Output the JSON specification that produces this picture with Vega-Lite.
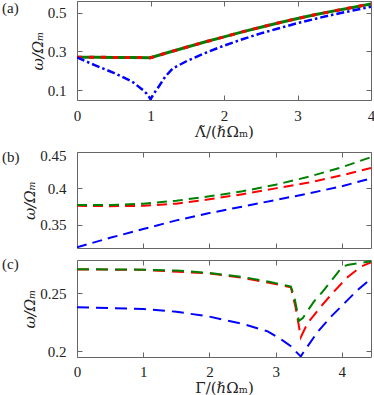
{
"$schema":"https://vega.github.io/schema/vega-lite/v6.json",
"padding":{"left":1,"top":0,"right":0,"bottom":0},
"config":{
 "font":"Liberation Serif",
 "view":{"stroke":"#666","strokeWidth":1},
 "axis":{"grid":false,"domain":false,"tickSize":-5,"tickColor":"#666","tickWidth":1,"labelFont":"Liberation Serif","labelFontSize":15,"labelColor":"#222","titleFont":"DejaVu Serif","titleFontSize":15,"titleFontWeight":"normal","titleColor":"#222"},
 "title":{"font":"Liberation Serif","fontSize":15,"fontWeight":"normal","color":"#222","anchor":"start","frame":"group","baseline":"top"}
},
"datasets":{
 "a":[
  {"s":"g","x":0,"y":0.270},{"s":"g","x":0.25,"y":0.2698},{"s":"g","x":0.5,"y":0.2695},{"s":"g","x":0.75,"y":0.269},{"s":"g","x":1.0,"y":0.268},{"s":"g","x":1.25,"y":0.296},{"s":"g","x":1.5,"y":0.323},{"s":"g","x":1.75,"y":0.350},{"s":"g","x":2.0,"y":0.375},{"s":"g","x":2.25,"y":0.401},{"s":"g","x":2.5,"y":0.425},{"s":"g","x":2.75,"y":0.448},{"s":"g","x":3.0,"y":0.470},{"s":"g","x":3.25,"y":0.490},{"s":"g","x":3.5,"y":0.509},{"s":"g","x":3.75,"y":0.527},{"s":"g","x":4.0,"y":0.545},
  {"s":"r","x":0,"y":0.270},{"s":"r","x":0.25,"y":0.2698},{"s":"r","x":0.5,"y":0.2695},{"s":"r","x":0.75,"y":0.269},{"s":"r","x":1.0,"y":0.268},{"s":"r","x":1.25,"y":0.296},{"s":"r","x":1.5,"y":0.323},{"s":"r","x":1.75,"y":0.350},{"s":"r","x":2.0,"y":0.375},{"s":"r","x":2.25,"y":0.401},{"s":"r","x":2.5,"y":0.425},{"s":"r","x":2.75,"y":0.448},{"s":"r","x":3.0,"y":0.470},{"s":"r","x":3.25,"y":0.490},{"s":"r","x":3.5,"y":0.509},{"s":"r","x":3.75,"y":0.527},{"s":"r","x":4.0,"y":0.545},
  {"s":"b","x":0,"y":0.27},{"s":"b","x":0.25,"y":0.228},{"s":"b","x":0.5,"y":0.19},{"s":"b","x":0.75,"y":0.145},{"s":"b","x":0.9,"y":0.1},{"s":"b","x":0.95,"y":0.082},{"s":"b","x":0.98,"y":0.066},{"s":"b","x":1.0,"y":0.054},{"s":"b","x":1.05,"y":0.085},{"s":"b","x":1.1,"y":0.112},{"s":"b","x":1.2,"y":0.17},{"s":"b","x":1.3,"y":0.212},{"s":"b","x":1.5,"y":0.252},{"s":"b","x":1.75,"y":0.293},{"s":"b","x":2.0,"y":0.33},{"s":"b","x":2.25,"y":0.363},{"s":"b","x":2.5,"y":0.393},{"s":"b","x":2.75,"y":0.42},{"s":"b","x":3.0,"y":0.446},{"s":"b","x":3.25,"y":0.469},{"s":"b","x":3.5,"y":0.491},{"s":"b","x":3.75,"y":0.511},{"s":"b","x":4.0,"y":0.53}
 ],
 "b":[
  {"s":"g","x":0,"y":0.377},{"s":"g","x":0.5,"y":0.377},{"s":"g","x":1.0,"y":0.379},{"s":"g","x":1.5,"y":0.383},{"s":"g","x":2.0,"y":0.389},{"s":"g","x":2.5,"y":0.396},{"s":"g","x":3.0,"y":0.405},{"s":"g","x":3.5,"y":0.416},{"s":"g","x":4.0,"y":0.429},{"s":"g","x":4.44,"y":0.443},
  {"s":"r","x":0,"y":0.376},{"s":"r","x":0.5,"y":0.3755},{"s":"r","x":1.0,"y":0.376},{"s":"r","x":1.5,"y":0.379},{"s":"r","x":2.0,"y":0.385},{"s":"r","x":2.5,"y":0.392},{"s":"r","x":3.0,"y":0.400},{"s":"r","x":3.5,"y":0.408},{"s":"r","x":4.0,"y":0.418},{"s":"r","x":4.44,"y":0.428},
  {"s":"b","x":0,"y":0.319},{"s":"b","x":0.5,"y":0.332},{"s":"b","x":1.0,"y":0.344},{"s":"b","x":1.5,"y":0.356},{"s":"b","x":2.0,"y":0.366},{"s":"b","x":2.5,"y":0.375},{"s":"b","x":3.0,"y":0.384},{"s":"b","x":3.5,"y":0.393},{"s":"b","x":4.0,"y":0.403},{"s":"b","x":4.44,"y":0.4136}
 ],
 "c":[
  {"s":"g","x":0,"y":0.2706},{"s":"g","x":0.5,"y":0.2705},{"s":"g","x":1.0,"y":0.2703},{"s":"g","x":1.5,"y":0.2695},{"s":"g","x":2.0,"y":0.2675},{"s":"g","x":2.5,"y":0.264},{"s":"g","x":2.9,"y":0.2598},{"s":"g","x":3.1,"y":0.2575},{"s":"g","x":3.23,"y":0.2557},{"s":"g","x":3.28,"y":0.247},{"s":"g","x":3.32,"y":0.236},{"s":"g","x":3.35,"y":0.226},{"s":"g","x":3.41,"y":0.2286},{"s":"g","x":3.58,"y":0.2429},{"s":"g","x":3.71,"y":0.2514},{"s":"g","x":3.89,"y":0.2643},{"s":"g","x":4.01,"y":0.2729},{"s":"g","x":4.1,"y":0.2745},{"s":"g","x":4.44,"y":0.2775},
  {"s":"r","x":0,"y":0.2705},{"s":"r","x":1.0,"y":0.2701},{"s":"r","x":2.0,"y":0.2670},{"s":"r","x":2.5,"y":0.2633},{"s":"r","x":2.9,"y":0.259},{"s":"r","x":3.23,"y":0.255},{"s":"r","x":3.3,"y":0.238},{"s":"r","x":3.35,"y":0.222},{"s":"r","x":3.38,"y":0.212},{"s":"r","x":3.48,"y":0.224},{"s":"r","x":3.69,"y":0.239},{"s":"r","x":3.89,"y":0.252},{"s":"r","x":4.09,"y":0.264},{"s":"r","x":4.29,"y":0.273},{"s":"r","x":4.44,"y":0.2765},
  {"s":"b","x":0,"y":0.2378},{"s":"b","x":0.5,"y":0.2372},{"s":"b","x":1.0,"y":0.2364},{"s":"b","x":1.5,"y":0.234},{"s":"b","x":2.0,"y":0.2298},{"s":"b","x":2.5,"y":0.2236},{"s":"b","x":2.88,"y":0.2171},{"s":"b","x":3.1,"y":0.2095},{"s":"b","x":3.23,"y":0.2043},{"s":"b","x":3.3,"y":0.2},{"s":"b","x":3.38,"y":0.1955},{"s":"b","x":3.43,"y":0.2},{"s":"b","x":3.64,"y":0.2171},{"s":"b","x":3.84,"y":0.23},{"s":"b","x":4.04,"y":0.2414},{"s":"b","x":4.24,"y":0.2529},{"s":"b","x":4.44,"y":0.2625}
 ]
},
"spacing":7,
"vconcat":[
 {
  "width":294,"height":99,
  "title":{"text":"(a)","offset":-15.2,"dx":-75},
  "layer":[
   {
    "encoding":{
     "x":{"field":"x","type":"quantitative","scale":{"domain":[0,4],"nice":false,"zero":false},"axis":{"orient":"bottom","values":[0,1,2,3,4],"format":"d","labelFlush":false,"labelPadding":13,"title":"Λ̃/(ℏΩₘ)","titlePadding":1}},
     "y":{"field":"y","type":"quantitative","scale":{"domain":[0.05,0.56],"nice":false,"zero":false},"axis":{"orient":"left","values":[0.1,0.3,0.5],"format":".1f","labelPadding":16,"title":"ω/Ωₘ","titlePadding":2,"titleFontStyle":"italic"}}
    },
    "layer":[
     {"data":{"name":"a"},"transform":[{"filter":"datum.s=='g'"}],"mark":{"type":"line","color":"#008000","strokeWidth":3,"clip":true}},
     {"data":{"name":"a"},"transform":[{"filter":"datum.s=='r'"}],"mark":{"type":"line","color":"#ff0000","strokeWidth":3,"strokeDash":[5,7],"clip":true}},
     {"data":{"name":"a"},"transform":[{"filter":"datum.s=='b'"}],"mark":{"type":"line","color":"#0000ff","strokeWidth":2.5,"strokeDash":[8,3,2.5,3],"clip":true}}
    ]
   },
   {"data":{"name":"a"},"mark":{"type":"line","opacity":0},
    "encoding":{
     "x":{"field":"x","type":"quantitative","scale":{"domain":[0,4],"nice":false,"zero":false},"axis":{"orient":"top","values":[0,1,2,3,4],"labels":false,"title":null}},
     "y":{"field":"y","type":"quantitative","scale":{"domain":[0.05,0.56],"nice":false,"zero":false},"axis":{"orient":"right","values":[0.1,0.3,0.5],"labels":false,"title":null}}
    }}
  ],
  "resolve":{"axis":{"x":"independent","y":"independent"}}
 },
 {
  "width":294,"height":96,
  "title":{"text":"(b)","offset":-16.9,"dx":-75},
  "layer":[
   {
    "encoding":{
     "x":{"field":"x","type":"quantitative","scale":{"domain":[0,4.44],"nice":false,"zero":false},"axis":{"orient":"bottom","values":[0,1,2,3,4],"labels":false,"title":null}},
     "y":{"field":"y","type":"quantitative","scale":{"domain":[0.318,0.45],"nice":false,"zero":false},"axis":{"orient":"left","values":[0.35,0.4,0.45],"format":"~g","labelPadding":16,"labelFlush":true,"labelFlushOffset":4,"title":"ω/Ωₘ","titlePadding":2,"titleFontStyle":"italic"}}
    },
    "layer":[
     {"data":{"name":"b"},"transform":[{"filter":"datum.s=='b'"}],"mark":{"type":"line","color":"#0000ff","strokeWidth":2,"strokeDash":[10,6],"clip":true}},
     {"data":{"name":"b"},"transform":[{"filter":"datum.s=='r'"}],"mark":{"type":"line","color":"#ff0000","strokeWidth":2,"strokeDash":[10,6],"clip":true}},
     {"data":{"name":"b"},"transform":[{"filter":"datum.s=='g'"}],"mark":{"type":"line","color":"#008000","strokeWidth":2,"strokeDash":[10,6],"clip":true}}
    ]
   },
   {"data":{"name":"b"},"mark":{"type":"line","opacity":0},
    "encoding":{
     "x":{"field":"x","type":"quantitative","scale":{"domain":[0,4.44],"nice":false,"zero":false},"axis":{"orient":"top","values":[0,1,2,3,4],"labels":false,"title":null}},
     "y":{"field":"y","type":"quantitative","scale":{"domain":[0.318,0.45],"nice":false,"zero":false},"axis":{"orient":"right","values":[0.35,0.4,0.45],"labels":false,"title":null}}
    }}
  ],
  "resolve":{"axis":{"x":"independent","y":"independent"}}
 },
 {
  "width":294,"height":97,
  "title":{"text":"(c)","offset":-12.8,"dx":-75},
  "layer":[
   {
    "encoding":{
     "x":{"field":"x","type":"quantitative","scale":{"domain":[0,4.44],"nice":false,"zero":false},"axis":{"orient":"bottom","values":[0,1,2,3,4],"format":"d","labelFlush":false,"labelPadding":12,"title":"Γ̄/(ℏΩₘ)","titlePadding":1}},
     "y":{"field":"y","type":"quantitative","scale":{"domain":[0.195,0.2786],"nice":false,"zero":false},"axis":{"orient":"left","values":[0.2,0.25],"format":"~g","labelPadding":16,"title":"ω/Ωₘ","titlePadding":2,"titleFontStyle":"italic"}}
    },
    "layer":[
     {"data":{"name":"c"},"transform":[{"filter":"datum.s=='b'"}],"mark":{"type":"line","color":"#0000ff","strokeWidth":2,"strokeDash":[12,7],"clip":true}},
     {"data":{"name":"c"},"transform":[{"filter":"datum.s=='r'"}],"mark":{"type":"line","color":"#ff0000","strokeWidth":2,"strokeDash":[12,7],"clip":true}},
     {"data":{"name":"c"},"transform":[{"filter":"datum.s=='g'"}],"mark":{"type":"line","color":"#008000","strokeWidth":2,"strokeDash":[12,7],"clip":true}}
    ]
   },
   {"data":{"name":"c"},"mark":{"type":"line","opacity":0},
    "encoding":{
     "x":{"field":"x","type":"quantitative","scale":{"domain":[0,4.44],"nice":false,"zero":false},"axis":{"orient":"top","values":[0,1,2,3,4],"labels":false,"title":null}},
     "y":{"field":"y","type":"quantitative","scale":{"domain":[0.195,0.2786],"nice":false,"zero":false},"axis":{"orient":"right","values":[0.2,0.25],"labels":false,"title":null}}
    }}
  ],
  "resolve":{"axis":{"x":"independent","y":"independent"}}
 }
]
}
